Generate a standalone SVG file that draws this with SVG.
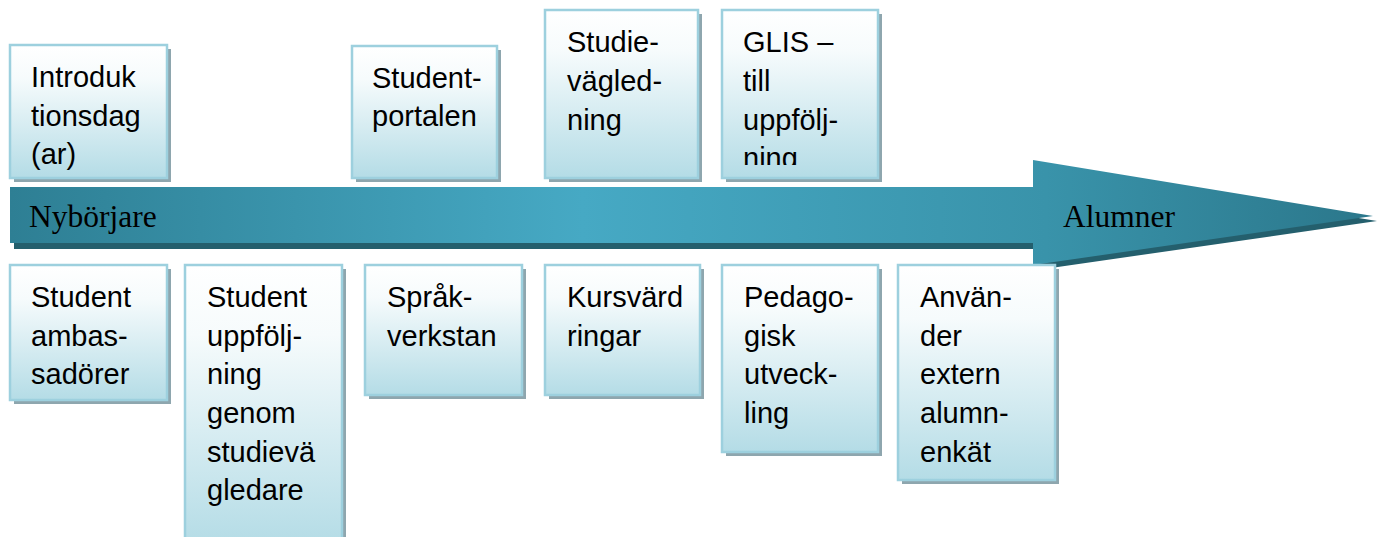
<svg xmlns="http://www.w3.org/2000/svg" width="1384" height="537" viewBox="0 0 1384 537">
<defs>
<linearGradient id="boxg" x1="0" y1="0" x2="0" y2="1">
<stop offset="0" stop-color="#ffffff"/>
<stop offset="0.25" stop-color="#f6fbfc"/>
<stop offset="1" stop-color="#b4dce6"/>
</linearGradient>
<linearGradient id="arrg" gradientUnits="userSpaceOnUse" x1="10" y1="0" x2="1373" y2="0">
<stop offset="0" stop-color="#2e7f94"/>
<stop offset="0.42" stop-color="#46a9c4"/>
<stop offset="0.76" stop-color="#3993aa"/>
<stop offset="1" stop-color="#2b778b"/>
</linearGradient>
<clipPath id="clipGlis"><rect x="722" y="10" width="156" height="155"/></clipPath>
</defs>
<style>
.shadow{fill:#8ea6ae}
.box{fill:url(#boxg);stroke:#9dd0de;stroke-width:2.5}
.t{font-family:"Liberation Sans",Arial,sans-serif;font-size:29px;fill:#000}
.a{font-family:"Liberation Serif","Times New Roman",serif;font-size:31.5px;fill:#000}
</style>
<g id="arrow">
<polygon points="14,192 1037,192 1037,165 1377,221 1037,270 1037,249 14,249" fill="#245f6d"/>
<polygon points="10,187 1033,187 1033,160 1373,216 1033,265 1033,243 10,243" fill="url(#arrg)"/>
<text class="a" x="29" y="227">Nybörjare</text>
<text class="a" x="1063" y="227">Alumner</text>
</g>
<g id="connectors"/>
<g id="n-intro">
<rect class="shadow" x="14" y="49" width="157" height="133"/>
<rect class="box" x="10" y="45" width="157" height="133"/>
<text class="t" x="31"><tspan x="31" y="87">Introduk</tspan><tspan x="31" y="126">tionsdag</tspan><tspan x="31" y="164">(ar)</tspan></text>
</g>
<g id="n-portal">
<rect class="shadow" x="356" y="50" width="145" height="132"/>
<rect class="box" x="352" y="46" width="145" height="132"/>
<text class="t"><tspan x="372" y="88">Student-</tspan><tspan x="372" y="126">portalen</tspan></text>
</g>
<g id="n-studievag">
<rect class="shadow" x="549" y="14" width="153" height="168"/>
<rect class="box" x="545" y="10" width="153" height="168"/>
<text class="t"><tspan x="567" y="52">Studie-</tspan><tspan x="567" y="91">vägled-</tspan><tspan x="567" y="130">ning</tspan></text>
</g>
<g id="n-glis">
<rect class="shadow" x="726" y="14" width="156" height="168"/>
<rect class="box" x="722" y="10" width="156" height="168"/>
<text class="t" clip-path="url(#clipGlis)"><tspan x="743" y="52">GLIS –</tspan><tspan x="743" y="91">till</tspan><tspan x="743" y="130">uppfölj-</tspan><tspan x="743" y="168">ning</tspan></text>
</g>
<g id="n-ambassador">
<rect class="shadow" x="14" y="269" width="157" height="135"/>
<rect class="box" x="10" y="265" width="157" height="135"/>
<text class="t"><tspan x="31" y="307">Student</tspan><tspan x="31" y="346">ambas-</tspan><tspan x="31" y="384">sadörer</tspan></text>
</g>
<g id="n-uppfoljning">
<rect class="shadow" x="189" y="269" width="157" height="280"/>
<rect class="box" x="185" y="265" width="157" height="280"/>
<text class="t"><tspan x="207" y="307">Student</tspan><tspan x="207" y="346">uppfölj-</tspan><tspan x="207" y="384">ning</tspan><tspan x="207" y="423">genom</tspan><tspan x="207" y="462">studievä</tspan><tspan x="207" y="500">gledare</tspan></text>
</g>
<g id="n-sprak">
<rect class="shadow" x="369" y="269" width="157" height="130"/>
<rect class="box" x="365" y="265" width="157" height="130"/>
<text class="t"><tspan x="387" y="307">Språk-</tspan><tspan x="387" y="346">verkstan</tspan></text>
</g>
<g id="n-kurs">
<rect class="shadow" x="549" y="269" width="155" height="130"/>
<rect class="box" x="545" y="265" width="155" height="130"/>
<text class="t"><tspan x="567" y="307">Kursvärd</tspan><tspan x="567" y="346">ringar</tspan></text>
</g>
<g id="n-pedagogisk">
<rect class="shadow" x="726" y="269" width="156" height="187"/>
<rect class="box" x="722" y="265" width="156" height="187"/>
<text class="t"><tspan x="744" y="307">Pedago-</tspan><tspan x="744" y="346">gisk</tspan><tspan x="744" y="384">utveck-</tspan><tspan x="744" y="423">ling</tspan></text>
</g>
<g id="n-anvander">
<rect class="shadow" x="902" y="269" width="157" height="215"/>
<rect class="box" x="898" y="265" width="157" height="215"/>
<text class="t"><tspan x="920" y="307">Använ-</tspan><tspan x="920" y="346">der</tspan><tspan x="920" y="384">extern</tspan><tspan x="920" y="423">alumn-</tspan><tspan x="920" y="462">enkät</tspan></text>
</g>
</svg>
